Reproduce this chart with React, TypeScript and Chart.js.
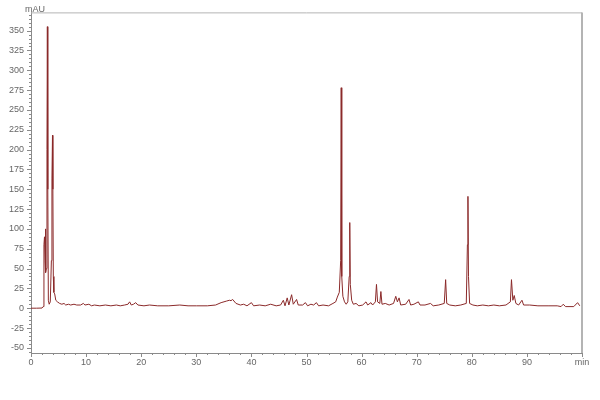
import React, { useEffect, useRef } from "react";
import { Chart, registerables } from "chart.js";

Chart.register(...registerables);

// Retention time (min) and absorbance (mAU)
const times = [
  0, 1, 2.0, 2.2, 2.35, 2.45, 2.55, 2.6, 2.7, 2.8, 2.9, 2.97, 3.05, 3.15, 3.3, 3.5, 3.7, 3.8, 3.9, 3.97,
  4.05, 4.15, 4.3, 4.5, 4.8, 5.2, 5.6, 6.0, 6.3, 6.8, 7.2, 7.8, 8.3, 9.0, 9.5, 9.8, 10.5, 11.0, 11.5, 12.5,
  13.5, 14.5, 15.5, 16.2, 17.0, 17.6, 17.9, 18.2, 18.6, 19.0, 19.4, 20.5, 21.5, 23, 25, 27, 28.5, 30, 32, 33.5,
  34.5, 35.5, 36, 36.3, 36.6, 37.2, 38, 38.6, 39.2, 40.0, 40.4, 41.5, 42.5, 43.5, 44.5, 45.3, 45.8, 46.1, 46.5, 46.8,
  47.3, 47.6, 48.2, 48.5, 49.3, 49.8, 50.2, 50.8, 51.3, 51.8, 52.2, 53.0, 54.0, 54.8, 55.3, 55.6, 55.95, 56.2, 56.3, 56.4,
  56.6, 56.9, 57.2, 57.5, 57.75, 57.85, 57.95, 58.2, 58.5, 59.0, 59.5, 60.2, 60.8, 61.1, 61.7, 62.0, 62.5, 62.7, 62.9, 63.3,
  63.5, 63.7, 64.3, 65, 65.8, 66.2, 66.5, 66.8, 67.1, 68.0, 68.6, 68.9, 69.5, 70.3, 70.6, 71.5, 72.5, 73.0, 74.0, 75.0,
  75.25, 75.45, 76, 77, 78, 79.0, 79.2, 79.3, 79.4, 79.6, 80.2, 81, 82, 83, 84, 85, 86.2, 87.0, 87.2, 87.45,
  87.7, 88.0, 88.5, 89.1, 89.4, 90.5, 92, 94, 95.5, 96.2, 96.6, 97, 98.5, 99.2, 99.6,
];
const mAU = [
  0, 0, 0.2, 2, 80, 90, 60, 100, 45, 50, 200, 355, 150, 10, 5, 8, 60, 163, 218, 150,
  40, 20, 18, 10, 8, 6, 5, 6, 4, 5, 4, 5, 4, 4, 6, 4, 5, 3, 4, 3,
  4, 3, 4, 3, 4, 5, 8, 4, 5, 7, 4, 3, 4, 3, 3, 4, 3, 3, 3, 4,
  7, 9, 10, 9.5, 11, 6, 4, 5, 3, 7, 3, 4, 3, 5, 3, 4, 10, 3, 13, 4,
  17, 5, 11, 4, 4, 7, 3, 5, 4, 7, 3, 4, 3, 6, 8, 14, 20, 60, 278, 40,
  15, 8, 5, 8, 40, 108, 30, 10, 5, 6, 3, 4, 8, 4, 7, 4, 8, 30, 8, 6,
  21, 5, 6, 4, 6, 15, 8, 13, 4, 5, 11, 4, 5, 8, 4, 4, 6, 3, 4, 6,
  36, 6, 4, 3, 4, 6, 80, 141, 40, 6, 4, 3, 4, 3, 4, 3, 4, 8, 36, 10,
  16, 6, 4, 10, 4, 4, 3, 3, 3, 2, 5, 2, 2, 7, 3,
];

const xMajorTicks = [0, 10, 20, 30, 40, 50, 60, 70, 80, 90, 100];
const yMajorTicks = [-50, -25, 0, 25, 50, 75, 100, 125, 150, 175, 200, 225, 250, 275, 300, 325, 350];
const xUnitLabel = "min";
const yUnitLabel = "mAU";

const X_MIN = 0;
const X_MAX = 100;
const Y_MIN = -56.5;
const Y_MAX = 373;

const FONT = "'Liberation Sans', Arial, sans-serif";

const framePlugin = {
  id: "frame",
  afterDraw(chart: any) {
    const { ctx, chartArea: a } = chart;
    const xs = chart.scales.x;
    const ys = chart.scales.y;
    ctx.save();
    // top and right frame
    ctx.strokeStyle = "#b4b4b4";
    ctx.lineWidth = 1;
    ctx.beginPath();
    ctx.moveTo(a.left, a.top + 0.5);
    ctx.lineTo(a.right, a.top + 0.5);
    ctx.stroke();
    ctx.lineWidth = 2;
    ctx.beginPath();
    ctx.moveTo(a.right, a.top);
    ctx.lineTo(a.right, a.bottom);
    ctx.stroke();
    // tick marks
    ctx.strokeStyle = "#8a8a8a";
    ctx.lineWidth = 1;
    ctx.beginPath();
    for (let v = -55; v <= Y_MAX; v += 5) {
      if (v < Y_MIN) continue;
      const py = Math.round(ys.getPixelForValue(v)) + 0.5;
      const len = v % 25 === 0 ? 4 : 2;
      ctx.moveTo(a.left - len, py);
      ctx.lineTo(a.left, py);
    }
    for (let t = X_MIN; t <= X_MAX; t += 2) {
      const px = Math.round(xs.getPixelForValue(t)) + 0.5;
      const len = t % 10 === 0 ? 4 : 2;
      ctx.moveTo(px, a.bottom);
      ctx.lineTo(px, a.bottom + len);
    }
    ctx.stroke();
    // unit label on y axis
    ctx.fillStyle = "#666";
    ctx.font = `9px ${FONT}`;
    ctx.textAlign = "left";
    ctx.textBaseline = "alphabetic";
    ctx.fillText(yUnitLabel, a.left - 6, a.top);
    ctx.restore();
  },
};

export default function App() {
  const ref = useRef<HTMLCanvasElement | null>(null);

  useEffect(() => {
    if (!ref.current) return;
    const points = times.map((t, i) => ({ x: t, y: mAU[i] }));
    const chart = new Chart(ref.current, {
      type: "line",
      data: {
        datasets: [
          {
            data: points,
            borderColor: "#8b2a2a",
            borderWidth: 1,
            pointRadius: 0,
            tension: 0,
            fill: false,
          },
        ],
      },
      options: {
        animation: false,
        responsive: false,
        maintainAspectRatio: false,
        layout: { padding: { top: 11, right: 18, left: 0, bottom: 0 } },
        plugins: { legend: { display: false }, tooltip: { enabled: false } },
        scales: {
          x: {
            type: "linear",
            min: X_MIN,
            max: X_MAX,
            afterBuildTicks: (s: any) => {
              s.ticks = xMajorTicks.map((v) => ({ value: v }));
            },
            afterFit: (s: any) => {
              s.height = 47;
            },
            grid: { display: false, drawTicks: false },
            border: { display: true, color: "#8a8a8a", width: 1 },
            ticks: {
              autoSkip: false,
              maxRotation: 0,
              padding: 4,
              color: "#666",
              font: { family: FONT, size: 9 },
              callback: (v: any) => (v === X_MAX ? xUnitLabel : String(v)),
            },
          },
          y: {
            type: "linear",
            min: Y_MIN,
            max: Y_MAX,
            afterBuildTicks: (s: any) => {
              s.ticks = yMajorTicks.map((v) => ({ value: v }));
            },
            afterFit: (s: any) => {
              s.width = 31;
            },
            grid: { display: false, drawTicks: false },
            border: { display: true, color: "#8a8a8a", width: 1 },
            ticks: {
              autoSkip: false,
              padding: 7,
              color: "#666",
              font: { family: FONT, size: 9 },
            },
          },
        },
      },
      plugins: [framePlugin],
    });
    return () => chart.destroy();
  }, []);

  return (
    <div style={{ position: "fixed", left: 0, top: 0, width: 600, height: 400, background: "#fff" }}>
      <canvas ref={ref} width={600} height={400} style={{ width: 600, height: 400 }} />
    </div>
  );
}
